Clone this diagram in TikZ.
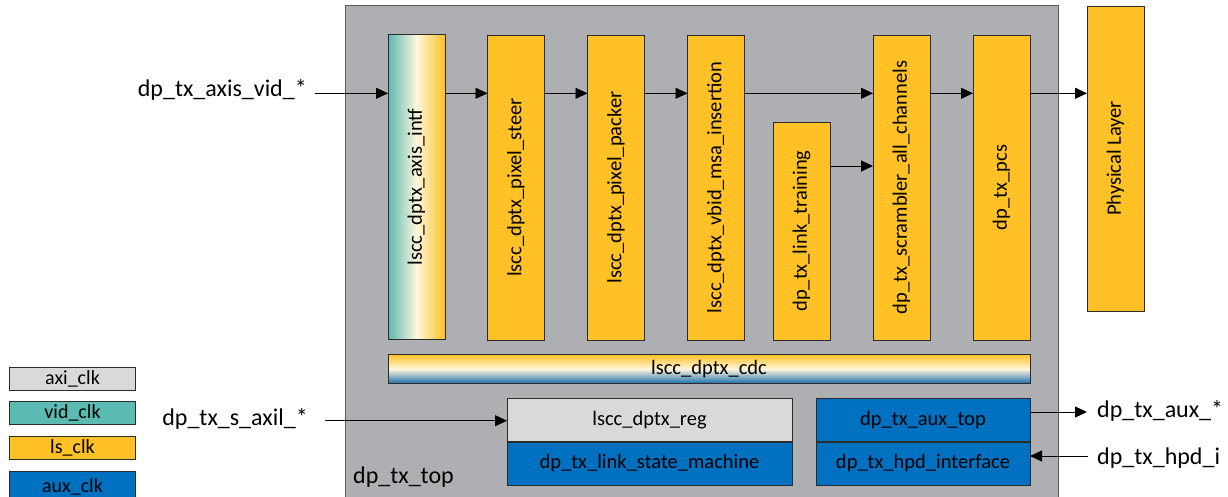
\documentclass[tikz,border=0pt]{standalone}
\usepackage{fontspec}
\setmainfont{Carlito}
\usetikzlibrary{arrows.meta}

\definecolor{topgray}{HTML}{AEAFB3}
\definecolor{lsyellow}{HTML}{FFC125}
\definecolor{vidteal}{HTML}{5BBAB1}
\definecolor{axigray}{HTML}{D9D9D9}
\definecolor{auxblue}{HTML}{0070C0}
\definecolor{cream}{HTML}{FFF6DC}
\definecolor{edge}{HTML}{2B2B2B}

\tikzset{
  blk/.style={draw=edge, line width=0.9pt, inner sep=0pt, outer sep=0pt,
              font=\fontsize{20.5}{24}\selectfont},
  vblk/.style={blk, fill=lsyellow, minimum width=57pt, minimum height=305pt},
  hblk/.style={blk, minimum width=214pt, minimum height=43pt},
  legbox/.style={blk, minimum width=126pt, minimum height=23pt,
                 font=\fontsize{20}{24}\selectfont},
  sig/.style={inner sep=0pt, font=\fontsize{24}{28}\selectfont},
  link/.style={line width=0.9pt, draw=black,
               -{Triangle[length=12pt,width=11pt]}},
}

\begin{document}
\begin{tikzpicture}[x=1pt,y=-1pt]
\clip (0,0) rectangle (1228,496);
\fill[white] (0,0) rectangle (1228,496);

% enclosing top-level module
\draw[fill=topgray, draw=black!65, line width=0.9pt] (345,5) rectangle (1058,520);
\node[sig, anchor=base west] (toplbl) at (353,483) {dp\_tx\_top};

% video datapath
\node[vblk, left color=vidteal, right color=lsyellow, middle color=cream]
  (axis) at (416.5,187) {\rotatebox{90}{lscc\_dptx\_axis\_intf}};
\node[vblk] (steer)  at (516,187.5) {\rotatebox{90}{lscc\_dptx\_pixel\_steer}};
\node[vblk] (packer) at (616,187.5) {\rotatebox{90}{lscc\_dptx\_pixel\_packer}};
\node[vblk] (vbid)   at (716,187.5) {\rotatebox{90}{lscc\_dptx\_vbid\_msa\_insertion}};
\node[vblk, minimum height=218pt] (linktr) at (801.5,231)
  {\rotatebox{90}{dp\_tx\_link\_training}};
\node[vblk] (scram)  at (901.5,187.5) {\rotatebox{90}{dp\_tx\_scrambler\_all\_channels}};
\node[vblk] (pcs)    at (1001.5,187.5) {\rotatebox{90}{dp\_tx\_pcs}};
\node[vblk] (phy)    at (1115.5,158.5) {\rotatebox{90}{Physical Layer}};

% clock domain crossing bar
\node[blk, minimum width=642pt, minimum height=29pt,
      top color=lsyellow, bottom color=auxblue!85!black!90, middle color=cream]
  (cdc) at (709,369) {lscc\_dptx\_cdc};

% control blocks
\node[hblk, minimum width=285pt, fill=axigray] (reg) at (649.5,420) {lscc\_dptx\_reg};
\node[hblk, minimum width=285pt, fill=auxblue] (lsm) at (649.5,463.5) {dp\_tx\_link\_state\_machine};
\node[hblk, fill=auxblue] (auxtop) at (923,420) {dp\_tx\_aux\_top};
\node[hblk, fill=auxblue] (hpd) at (923,463.5) {dp\_tx\_hpd\_interface};

% clock legend
\node[legbox, fill=axigray] (lgaxi) at (72.5,378.5) {axi\_clk};
\node[legbox, fill=vidteal] (lgvid) at (72.5,413) {vid\_clk};
\node[legbox, fill=lsyellow] (lgls) at (72.5,448) {ls\_clk};
\node[legbox, fill=auxblue, minimum height=32pt] (lgaux) at (72.5,487) {aux\_clk};

% external signals
\node[sig, anchor=base east] (vidlbl) at (307,96) {dp\_tx\_axis\_vid\_*};
\coordinate (vidin) at (315,93.3);
\node[sig, anchor=base east] (axillbl) at (308,425) {dp\_tx\_s\_axil\_*};
\coordinate (axilin) at (325,420.7);
\node[sig, anchor=base west] (auxlbl) at (1097,417) {dp\_tx\_aux\_*};
\coordinate (auxout) at (1087,412);
\node[sig, anchor=base west] (hpdlbl) at (1097,464) {dp\_tx\_hpd\_i};
\coordinate (hpdin) at (1088,456);

% connections
\draw[link] (vidin) -- (vidin -| axis.west);
\draw[link] (axis.east |- vidin) -- (steer.west |- vidin);
\draw[link] (steer.east |- vidin) -- (packer.west |- vidin);
\draw[link] (packer.east |- vidin) -- (vbid.west |- vidin);
\draw[link] (vbid.east |- vidin) -- (scram.west |- vidin);
\draw[link] (scram.east |- vidin) -- (pcs.west |- vidin);
\draw[link] (pcs.east |- vidin) -- (phy.west |- vidin);
\draw[link] ([yshift=65pt]linktr.east) -- ([yshift=65pt]linktr.east -| scram.west);
\draw[link] (axilin) -- (axilin -| reg.west);
\draw[link] (auxtop.east |- auxout) -- (auxout);
\draw[link] (hpdin) -- (hpdin -| hpd.east);
\end{tikzpicture}
\end{document}
